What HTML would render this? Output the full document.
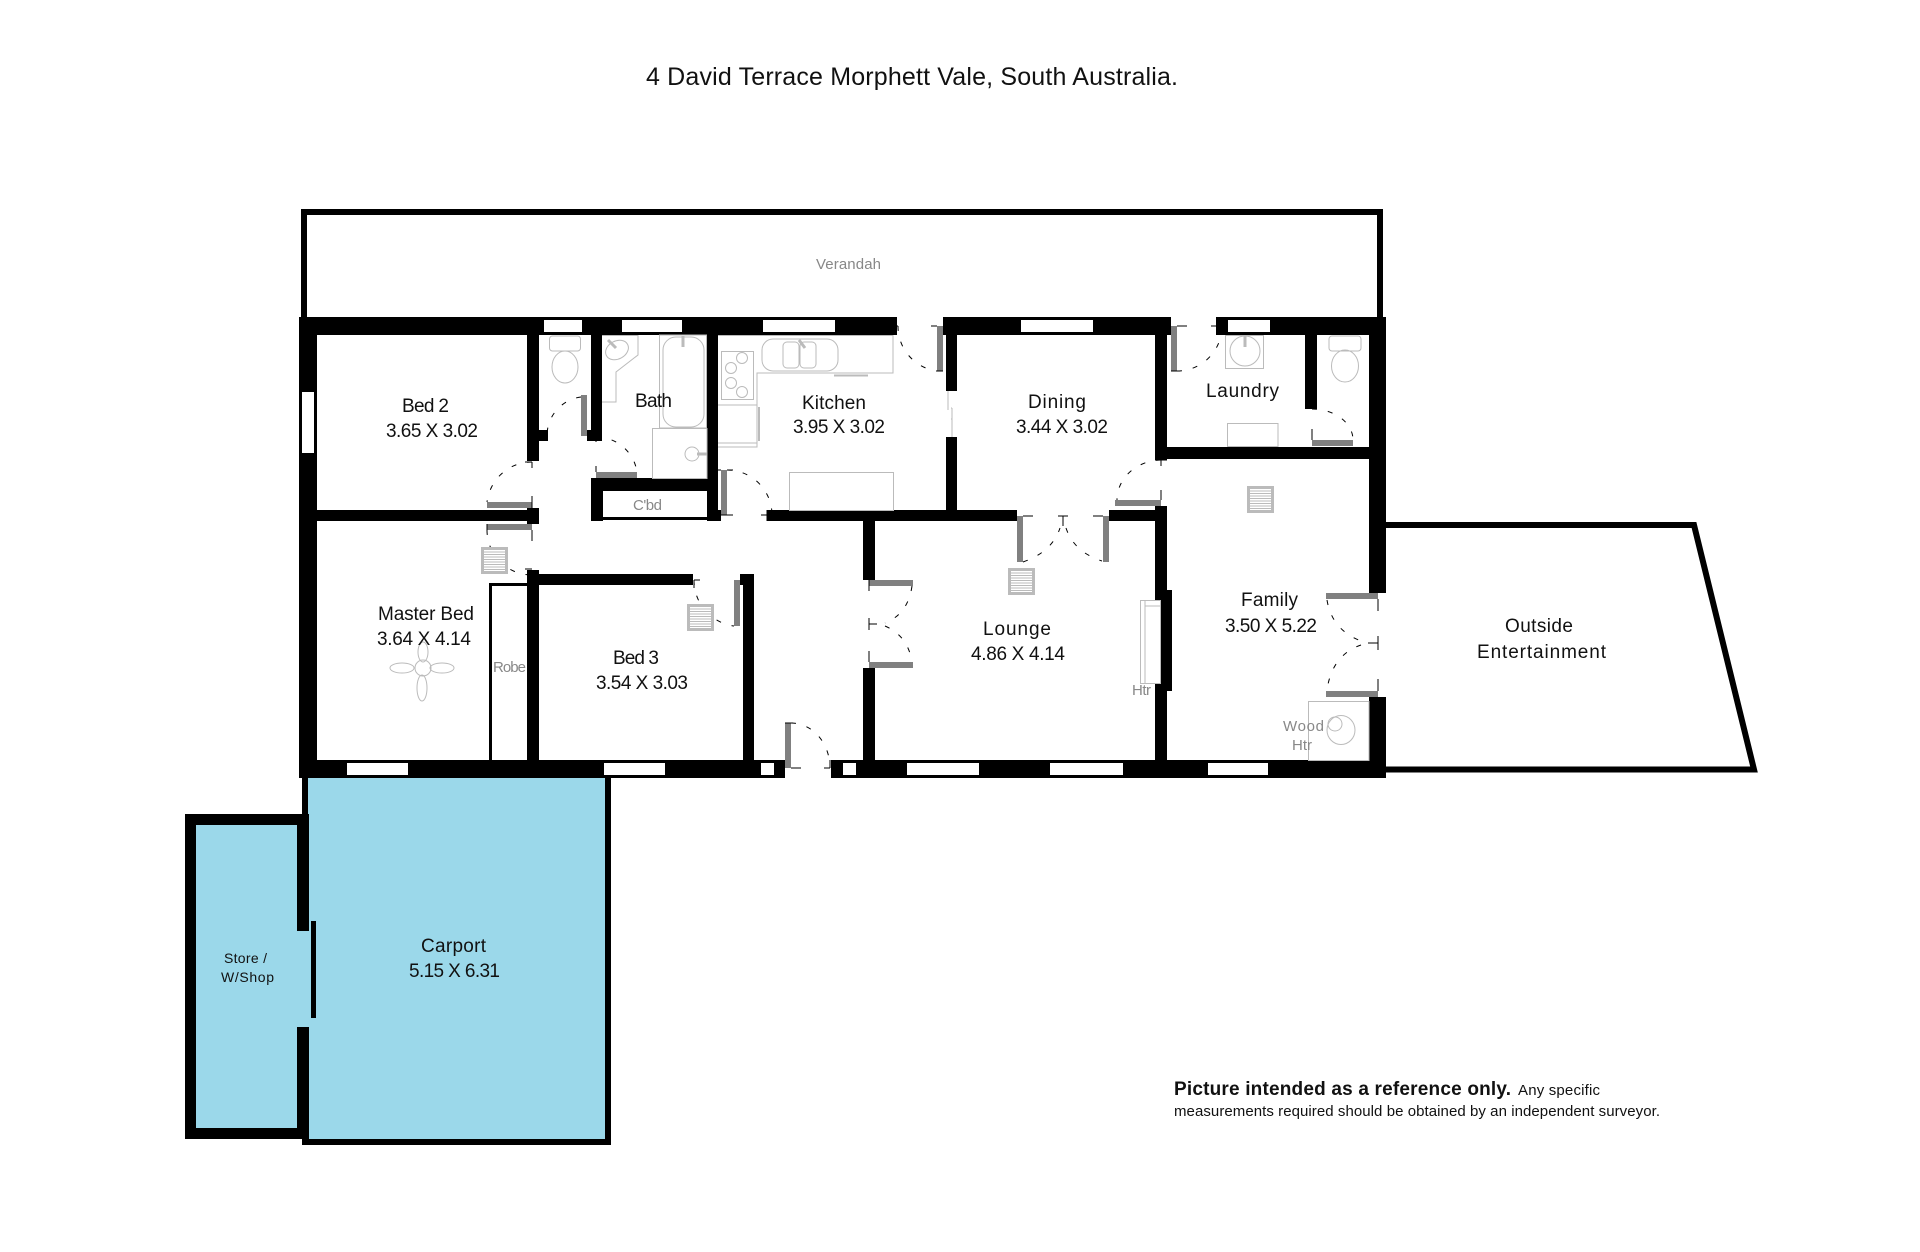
<!DOCTYPE html>
<html><head><meta charset="utf-8"><style>
html,body{margin:0;padding:0;background:#fff}
svg{display:block}
text{font-family:"Liberation Sans",sans-serif;font-size:19px;fill:#111}
.g{font-size:15px;fill:#888}
.f{fill:none;stroke:#bbb;stroke-width:1}
.d{fill:none;stroke:#000;stroke-width:1;stroke-dasharray:5 11}
.t{stroke:#000;stroke-width:1;fill:none}
</style></head><body>
<svg width="1920" height="1252" viewBox="0 0 1920 1252" xmlns="http://www.w3.org/2000/svg">
<defs>
<g id="v"><rect x="1.5" y="1.5" width="24" height="24" fill="#fff" stroke="#bbb" stroke-width="3"/>
<path d="M3 5h21M3 7.500h21M3 10h21M3 12.500h21M3 15h21M3 17.500h21M3 20h21M3 22.500h21" stroke="#bbb" stroke-width="1"/></g>
</defs>
<rect width="1920" height="1252" fill="#fff"/>
<!-- verandah and outside -->
<path d="M304 320V212H1380V320" fill="none" stroke="#000" stroke-width="6"/>
<path d="M1386 525H1694L1754 769.500H1386" fill="none" stroke="#000" stroke-width="6"/>
<!-- carport/store -->
<rect x="305" y="778" width="303" height="364" fill="#9bd8ea"/>
<rect x="196" y="825" width="115" height="303" fill="#9bd8ea"/>
<g fill="#000">
<rect x="302" y="778" width="6" height="38"/>
<rect x="605" y="778" width="6" height="367"/>
<rect x="302" y="1139" width="309" height="6"/>
<rect x="185" y="814" width="124" height="11"/>
<rect x="185" y="814" width="11" height="325"/>
<rect x="185" y="1128" width="124" height="11"/>
<rect x="297" y="814" width="12" height="117"/>
<rect x="297" y="1027" width="12" height="112"/>
<rect x="311" y="921" width="5" height="97"/>
<!-- main walls -->
<rect x="299" y="317" width="598" height="18"/>
<rect x="943" y="317" width="228" height="18"/>
<rect x="1216" y="317" width="170" height="18"/>
<rect x="299" y="317" width="18" height="461"/>
<rect x="1369" y="317" width="17" height="276"/>
<rect x="1369" y="697" width="17" height="81"/>
<rect x="299" y="760" width="486" height="18"/>
<rect x="831" y="760" width="555" height="18"/>
<rect x="527" y="335" width="12" height="126"/>
<rect x="539" y="430" width="9" height="11"/>
<rect x="591" y="335" width="11" height="106"/>
<rect x="587" y="430" width="4" height="11"/>
<rect x="707" y="335" width="11" height="186"/>
<rect x="707" y="510" width="14" height="11"/>
<rect x="591" y="478" width="12" height="43"/>
<rect x="591" y="478" width="116" height="13"/>
<rect x="603" y="517" width="104" height="3"/>
<rect x="317" y="510" width="210" height="11"/>
<rect x="527" y="508" width="12" height="16"/>
<rect x="767" y="510" width="250" height="11"/>
<rect x="946" y="335" width="11" height="56"/>
<rect x="946" y="437" width="11" height="73"/>
<rect x="1155" y="335" width="12" height="125"/>
<rect x="1155" y="447" width="215" height="12"/>
<rect x="1109" y="510" width="58" height="11"/>
<rect x="1155" y="506" width="12" height="254"/>
<rect x="1167" y="590" width="5" height="101"/>
<rect x="863" y="521" width="12" height="59"/>
<rect x="863" y="668" width="12" height="92"/>
<rect x="743" y="574" width="11" height="186"/>
<rect x="740" y="574" width="4" height="11"/>
<rect x="527" y="570" width="12" height="190"/>
<rect x="539" y="574" width="154" height="11"/>
<rect x="489" y="583" width="3" height="177"/>
<rect x="489" y="583" width="38" height="3"/>
<rect x="1305" y="335" width="12" height="74"/>
</g>
<!-- windows -->
<g fill="#fff">
<rect x="544" y="320" width="38" height="12"/>
<rect x="622" y="320" width="60" height="12"/>
<rect x="763" y="320" width="72" height="12"/>
<rect x="1021" y="320" width="72" height="12"/>
<rect x="1228" y="320" width="42" height="12"/>
<rect x="302" y="392" width="12" height="61"/>
<rect x="347" y="763" width="61" height="12"/>
<rect x="604" y="763" width="61" height="12"/>
<rect x="761" y="763" width="13" height="12"/>
<rect x="843" y="763" width="13" height="12"/>
<rect x="907" y="763" width="72" height="12"/>
<rect x="1050" y="763" width="73" height="12"/>
<rect x="1208" y="763" width="60" height="12"/>
</g>
<!-- door leaves -->
<g fill="#808080">
<rect x="487" y="502" width="45" height="6"/>
<rect x="487" y="524" width="45" height="6"/>
<rect x="581" y="395" width="6" height="41"/>
<rect x="596" y="472" width="41" height="6"/>
<rect x="721" y="470" width="6" height="45"/>
<rect x="937" y="326" width="6" height="45"/>
<rect x="1171" y="326" width="6" height="45"/>
<rect x="1115" y="500" width="46" height="6"/>
<rect x="1017" y="516" width="6" height="46"/>
<rect x="1103" y="516" width="6" height="46"/>
<rect x="869" y="580" width="44" height="6"/>
<rect x="869" y="662" width="44" height="6"/>
<rect x="785" y="723" width="6" height="45"/>
<rect x="734" y="580" width="6" height="46"/>
<rect x="1312" y="440" width="41" height="6"/>
<rect x="1326" y="593" width="52" height="6"/>
<rect x="1326" y="691" width="52" height="6"/>
</g>
<!-- door swings -->
<g class="d">
<path d="M532 462A45 46 0 0 0 487 502"/>
<path d="M487 530A45 45 0 0 0 532 575"/>
<path d="M581 397A39 39 0 0 0 547 436"/>
<path d="M596 437A41 41 0 0 1 637 472"/>
<path d="M727 470A45 45 0 0 1 772 515"/>
<path d="M898 326A45 45 0 0 0 937 371"/>
<path d="M1177 371A45 45 0 0 0 1222 326"/>
<path d="M1161 460A45 40 0 0 0 1117 500"/>
<path d="M1023 562Q1052 552 1060 528"/>
<path d="M1066 528Q1074 552 1102 561"/>
<path d="M912 586Q908 614 885 623"/>
<path d="M885 626Q908 636 912 662"/>
<path d="M791 723A39 45 0 0 1 830 768"/>
<path d="M694 580A46 46 0 0 0 734 626"/>
<path d="M1312 409A41 31 0 0 1 1353 440"/>
<path d="M1327 600Q1332 630 1361 641"/>
<path d="M1361 645Q1332 655 1327 690"/>
</g>
<!-- hinge ticks -->
<path class="t" d="M532 462v6M525 462h7M532 496v12M487 524v6M532 530v11M532 570v6M525 569h7M596 437v5M596 472v-6M721 470h-6M727 470h6M727 515h-9M721 515h12M767 510v11M761 515h6M898 326h-6M937 326h-6M937 371h6M1177 326h10M1177 371h-6M1216 326h-5M1161 460v6M1155 460h12M1161 490v10M1023 516h10M1103 516h-10M1058 516h10M1063 516v10M869 580v11M869 662v-11M869 618v12M869 624h8M785 723h8M791 768h10M830 768h-6M830 768v-8M694 580h6M694 580v8M1312 409v-4M1312 440v-11M1378 599v12M1378 691v-12M1368 643h10M1378 636v14"/>
<!-- kitchen / dining opening -->
<path d="M948 391v19M952 408v29M952 408h-1M952 419h-1" fill="none" stroke="#bbb"/>
<!-- fixtures -->
<g class="f">
<rect x="549.500" y="336" width="31" height="15" rx="3"/>
<ellipse cx="565" cy="367" rx="13" ry="16"/>
<path d="M602 335.500H638V355L616 372V402H602"/>
<ellipse cx="617" cy="350" rx="12" ry="9" transform="rotate(-28 617 350)"/>
<rect x="659.500" y="335" width="47" height="93"/>
<rect x="663" y="337" width="41" height="90" rx="13"/>
<rect x="652.500" y="428.500" width="54.500" height="50"/>
<circle cx="692" cy="454" r="7"/>
<rect x="721.500" y="351.500" width="32" height="48"/>
<circle cx="742" cy="358" r="5.500"/><circle cx="731" cy="368" r="5.500"/><circle cx="731" cy="383" r="5.500"/><circle cx="742" cy="392" r="5.500"/>
<path d="M718 335.500H893V373H757V447H718M718 405H757M718 443H757"/>
<rect x="762" y="339" width="76" height="32" rx="11"/>
<rect x="783" y="342" width="16" height="26" rx="4"/>
<rect x="800" y="342" width="16" height="26" rx="4"/>
<rect x="789.500" y="472.500" width="104" height="38"/>
<rect x="1225.500" y="335.500" width="38" height="33"/>
<circle cx="1245" cy="351" r="15"/>
<rect x="1227.500" y="423.500" width="50.500" height="23"/>
<rect x="1329" y="336" width="32" height="15" rx="3"/>
<ellipse cx="1345" cy="366" rx="13.500" ry="16"/>
<rect x="1308.500" y="701.500" width="60.500" height="59"/>
<ellipse cx="1341" cy="730" rx="14" ry="14.500"/>
<circle cx="1335" cy="724" r="7"/>
<rect x="1140.500" y="600.500" width="20" height="83" fill="#fff"/>
<path d="M1145 600v83M1145 606h15"/>
<ellipse cx="402" cy="668" rx="12" ry="5"/>
<ellipse cx="442" cy="668" rx="12" ry="5"/>
<ellipse cx="423" cy="652" rx="5" ry="10"/>
<ellipse cx="422" cy="688" rx="5" ry="13"/>
<circle cx="423" cy="668" r="8"/>
</g>
<g stroke="#bbb" stroke-width="3" fill="none">
<path d="M608 340L616 348M683 336V347M697 454H707M1245 335V347M799 340L805 348" />
<path d="M759 407V441M834 375.500H868" stroke-width="2"/>
</g>
<use href="#v" x="481" y="547"/>
<use href="#v" x="687" y="604"/>
<use href="#v" x="1008" y="568"/>
<use href="#v" x="1247" y="486"/>
<!-- labels -->
<g transform="translate(0,-1)">
<text x="646" y="86" style="font-size:25px" textLength="532" lengthAdjust="spacing">4 David Terrace Morphett Vale, South Australia.</text>
<text class="g" x="816" y="270" textLength="65" lengthAdjust="spacing">Verandah</text>
<text x="402" y="413" textLength="47">Bed 2</text>
<text x="386" y="438" textLength="92">3.65 X 3.02</text>
<text x="635" y="408" textLength="37">Bath</text>
<text class="g" x="633" y="511" textLength="29">C'bd</text>
<text x="802" y="410" textLength="64">Kitchen</text>
<text x="793" y="434" textLength="92">3.95 X 3.02</text>
<text x="1028" y="409" textLength="58">Dining</text>
<text x="1016" y="434" textLength="92">3.44 X 3.02</text>
<text x="1206" y="398" textLength="73">Laundry</text>
<text x="1241" y="607" textLength="57">Family</text>
<text x="1225" y="633" textLength="92">3.50 X 5.22</text>
<text x="1505" y="633" textLength="68">Outside</text>
<text x="1477" y="659" textLength="129">Entertainment</text>
<text class="g" x="1283" y="732" textLength="41">Wood</text>
<text class="g" x="1292" y="751" textLength="20">Htr</text>
<text x="378" y="621" textLength="96">Master Bed</text>
<text x="377" y="646" textLength="94">3.64 X 4.14</text>
<text class="g" x="493" y="673" textLength="33">Robe</text>
<text x="613" y="665" textLength="46">Bed 3</text>
<text x="596" y="690" textLength="92">3.54 X 3.03</text>
<text x="983" y="636" textLength="68">Lounge</text>
<text x="971" y="661" textLength="94">4.86 X 4.14</text>
<text class="g" x="1132" y="696" textLength="19">Htr</text>
<text x="421" y="953" textLength="65">Carport</text>
<text x="409" y="978" textLength="91">5.15 X 6.31</text>
<text x="224" y="964" style="font-size:14px" textLength="43">Store /</text>
<text x="221" y="983" style="font-size:14px" textLength="53">W/Shop</text>
<text x="1174" y="1096" style="font-size:19px;font-weight:bold" textLength="337">Picture intended as a reference only.</text>
<text x="1518" y="1096" style="font-size:15px" textLength="82">Any specific</text>
<text x="1174" y="1117" style="font-size:15px" textLength="486">measurements required should be obtained by an independent surveyor.</text>
</g>
</svg>
</body></html>
